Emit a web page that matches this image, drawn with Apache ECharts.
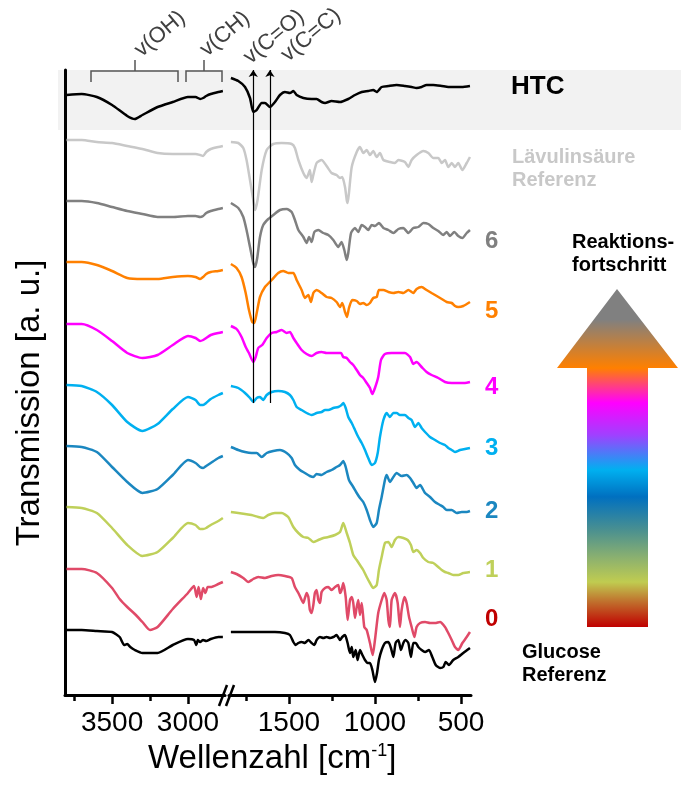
<!DOCTYPE html>
<html>
<head>
<meta charset="utf-8">
<script src="https://cdn.jsdelivr.net/npm/echarts@6/dist/echarts.min.js"></script>
<style>
  html, body { margin: 0; padding: 0; background: #fff; }
  #chart { width: 681px; height: 785px; }
</style>
</head>
<body>
<div id="chart"></div>
<script>
// FTIR spectra, [wavenumber cm-1, transmission a.u. (stacked)]
const htcLeft = [[3800,600],[3700,601],[3600,598],[3500,590],[3400,579],[3350,576],[3300,580],[3200,588],[3100,593],[3000,598],[2950,598],[2920,596],[2900,597],[2880,599],[2850,601],[2800,603],[2770,604]]
const htcRight = [[1837,617],[1794,614],[1755,608],[1726,597],[1707,583],[1687,585],[1658,592],[1639,592],[1610,588],[1581,593],[1552,600],[1523,603],[1494,602],[1474,604],[1455,600],[1416,597],[1368,596],[1339,596],[1310,593],[1290,592],[1252,594],[1203,593],[1155,596],[1116,600],[1077,603],[1039,604],[1010,605],[990,603],[961,608],[922,609],[874,610],[826,609],[787,608],[758,607],[729,608],[700,610],[661,610],[612,609],[574,608],[535,608],[496,608],[448,609]]

const levLeft = [[3800,555],[3700,555],[3600,553],[3500,552],[3400,549],[3300,546],[3200,542],[3100,541],[3000,541],[2950,541],[2920,540],[2900,539],[2880,543],[2850,546],[2800,548],[2770,549]]
const levRight = [[1837,553],[1794,552],[1765,547],[1746,535],[1726,515],[1707,495],[1697,485],[1682,495],[1658,525],[1629,545],[1591,551],[1542,552],[1484,551],[1465,547],[1445,535],[1416,522],[1397,517],[1378,525],[1368,513],[1358,520],[1339,532],[1310,535],[1281,529],[1252,522],[1223,520],[1203,517],[1190,518],[1174,508],[1164,495],[1159,492],[1151,502],[1135,528],[1106,543],[1087,548],[1068,542],[1048,545],[1029,540],[1010,544],[990,538],[971,542],[951,535],[913,533],[884,532],[864,535],[826,533],[806,528],[787,535],[758,540],[719,544],[690,542],[661,537],[632,537],[612,532],[593,535],[574,528],[554,532],[535,528],[516,532],[492,525],[467,532],[448,538]]

const s6Left = [[3800,494],[3700,494],[3600,492],[3500,488],[3400,484],[3300,481],[3200,478],[3100,478],[3000,479],[2950,479],[2920,478],[2900,479],[2880,482],[2850,484],[2800,486],[2770,487]]
const s6Right = [[1837,492],[1794,487],[1765,478],[1746,465],[1726,448],[1707,432],[1697,428],[1684,437],[1668,458],[1649,470],[1620,476],[1591,480],[1552,485],[1513,486],[1484,483],[1465,475],[1445,465],[1416,458],[1397,452],[1383,458],[1368,453],[1352,463],[1329,465],[1300,462],[1271,460],[1242,455],[1213,448],[1194,453],[1178,445],[1164,435],[1155,442],[1139,462],[1116,467],[1097,463],[1077,470],[1058,468],[1039,465],[1019,470],[1000,469],[977,472],[951,467],[922,465],[893,462],[864,466],[835,467],[806,462],[777,467],[748,468],[719,472],[690,471],[661,467],[632,464],[603,460],[583,463],[564,459],[539,463],[516,459],[492,457],[467,462],[448,465]]

const s5Left = [[3800,433],[3700,433],[3600,430],[3500,424],[3400,417],[3300,416],[3200,416],[3100,418],[3000,419],[2950,418],[2920,416],[2900,418],[2880,421],[2850,423],[2800,424],[2770,425]]
const s5Right = [[1837,431],[1804,427],[1775,418],[1751,402],[1732,385],[1713,373],[1701,372],[1687,382],[1668,398],[1639,408],[1600,415],[1562,422],[1533,424],[1504,422],[1474,422],[1455,415],[1426,405],[1407,397],[1387,400],[1372,393],[1358,402],[1339,405],[1310,402],[1281,398],[1252,397],[1223,393],[1203,388],[1190,392],[1174,383],[1163,378],[1151,387],[1132,395],[1106,394],[1087,391],[1068,392],[1048,390],[1029,392],[1010,397],[990,398],[977,405],[951,405],[922,403],[893,402],[864,403],[835,402],[806,405],[777,402],[758,406],[729,408],[700,405],[671,402],[641,399],[612,396],[583,393],[554,392],[535,389],[516,388],[487,389],[448,393]]

const s4Left = [[3800,371],[3700,371],[3600,365],[3500,354],[3400,342],[3300,337],[3200,340],[3100,350],[3000,359],[2950,357],[2920,354],[2900,355],[2880,357],[2850,360],[2800,362],[2770,363]]
const s4Right = [[1837,369],[1804,366],[1775,358],[1751,348],[1732,342],[1707,333],[1693,338],[1678,347],[1655,350],[1629,357],[1600,362],[1571,363],[1542,365],[1513,362],[1494,363],[1474,357],[1455,352],[1426,345],[1397,341],[1368,339],[1339,342],[1310,343],[1281,342],[1252,342],[1223,342],[1197,342],[1184,338],[1164,337],[1145,333],[1126,330],[1106,325],[1087,320],[1068,317],[1048,312],[1029,307],[1015,301],[1000,307],[981,318],[965,335],[942,341],[903,342],[864,342],[826,342],[796,338],[777,331],[758,333],[729,328],[700,323],[671,320],[632,317],[593,313],[554,312],[516,312],[477,312],[448,313]]

const s3Left = [[3800,310],[3700,309],[3600,303],[3500,290],[3400,273],[3300,264],[3200,271],[3100,286],[3000,298],[2950,295],[2920,290],[2900,290],[2880,292],[2850,296],[2800,300],[2770,302]]
const s3Right = [[1837,309],[1794,307],[1755,302],[1726,297],[1707,293],[1687,297],[1668,298],[1649,295],[1629,300],[1600,303],[1562,304],[1523,303],[1494,300],[1474,295],[1455,288],[1426,285],[1397,282],[1368,280],[1339,282],[1310,283],[1290,285],[1271,285],[1242,287],[1213,288],[1194,290],[1184,292],[1170,287],[1155,278],[1135,272],[1116,265],[1097,258],[1077,252],[1058,245],[1039,237],[1019,230],[1000,232],[984,242],[971,258],[951,275],[932,282],[913,278],[893,282],[874,282],[855,280],[826,280],[806,277],[787,275],[767,268],[748,272],[729,267],[709,263],[680,258],[651,255],[622,252],[593,250],[574,247],[554,245],[535,243],[506,245],[477,246],[448,247]]

const s2Left = [[3800,249],[3700,248],[3600,243],[3500,228],[3400,213],[3300,202],[3200,206],[3100,220],[3000,235],[2950,232],[2920,228],[2900,227],[2880,229],[2850,232],[2800,237],[2770,239]]
const s2Right = [[1837,248],[1794,245],[1755,243],[1717,242],[1687,242],[1658,238],[1629,242],[1591,244],[1552,245],[1513,242],[1484,237],[1465,230],[1436,225],[1407,222],[1378,219],[1358,218],[1339,221],[1310,220],[1281,223],[1252,225],[1223,228],[1203,230],[1184,234],[1170,228],[1151,215],[1126,208],[1106,202],[1087,197],[1068,193],[1048,185],[1029,175],[1010,168],[990,172],[977,185],[961,198],[942,215],[932,220],[913,213],[893,218],[874,222],[845,219],[816,220],[796,217],[777,212],[758,207],[738,210],[709,202],[680,198],[651,193],[622,190],[603,188],[583,185],[554,185],[525,182],[496,183],[467,183],[448,184]]

const s1Left = [[3800,188],[3700,187],[3600,182],[3500,167],[3400,150],[3300,139],[3200,143],[3100,157],[3000,172],[2950,170],[2920,166],[2900,166],[2880,167],[2850,170],[2800,174],[2770,177]]
const s1Right = [[1837,183],[1794,182],[1755,181],[1717,180],[1678,178],[1649,177],[1620,180],[1581,182],[1542,182],[1504,178],[1474,168],[1445,162],[1416,158],[1387,157],[1358,153],[1329,155],[1300,157],[1271,158],[1232,160],[1203,163],[1184,172],[1164,162],[1145,152],[1126,140],[1106,135],[1087,130],[1068,125],[1048,118],[1029,112],[1010,107],[990,110],[977,125],[961,138],[942,152],[922,153],[903,148],[884,155],[864,158],[835,157],[810,155],[791,150],[777,143],[758,145],[738,142],[719,137],[690,133],[661,132],[632,128],[612,125],[593,123],[574,122],[545,120],[516,120],[487,122],[448,123]]

const s0Left = [[3800,126],[3700,126],[3600,122],[3500,107],[3450,96],[3400,88],[3350,81],[3300,73],[3250,65],[3200,68],[3100,86],[3000,102],[2960,109],[2943,98],[2930,108],[2915,96],[2900,107],[2885,102],[2870,108],[2850,108],[2800,111],[2770,113]]
const s0Right = [[1837,123],[1804,121],[1765,117],[1736,113],[1707,116],[1678,118],[1639,117],[1600,119],[1562,120],[1523,119],[1484,117],[1465,108],[1445,102],[1426,95],[1416,92],[1407,97],[1397,102],[1387,98],[1378,85],[1368,82],[1358,90],[1349,102],[1339,105],[1329,95],[1319,92],[1310,103],[1290,107],[1271,108],[1252,105],[1232,108],[1213,110],[1203,102],[1194,105],[1184,112],[1170,98],[1159,75],[1145,95],[1135,98],[1126,92],[1116,77],[1106,88],[1097,95],[1087,80],[1077,92],[1062,68],[1048,65],[1029,52],[1013,40],[1000,55],[981,82],[961,95],[946,102],[932,95],[922,75],[913,68],[903,95],[884,102],[868,92],[855,68],[845,85],[829,98],[816,92],[802,78],[787,68],[771,58],[758,68],[738,72],[709,73],[680,72],[651,72],[622,73],[593,68],[574,62],[554,55],[535,48],[516,45],[492,52],[467,58],[448,63]]

const gluLeft = [[3800,65],[3700,65],[3600,64],[3500,63],[3450,58],[3420,50],[3400,51],[3380,48],[3350,45],[3300,42],[3250,42],[3200,42],[3100,50],[3000,56],[2960,55],[2945,50],[2935,55],[2920,53],[2900,55],[2880,54],[2850,56],[2800,58],[2770,58]]
const gluRight = [[1837,63],[1755,63],[1678,63],[1581,63],[1523,62],[1494,60],[1474,53],[1461,50],[1445,52],[1426,53],[1407,52],[1387,55],[1368,52],[1352,50],[1339,55],[1319,58],[1300,57],[1281,58],[1261,57],[1242,58],[1223,60],[1203,55],[1190,58],[1174,60],[1159,52],[1145,42],[1135,48],[1126,38],[1112,45],[1101,35],[1087,45],[1073,40],[1058,35],[1042,32],[1029,32],[1015,25],[1000,13],[988,22],[977,35],[961,45],[942,52],[922,53],[907,47],[893,38],[880,52],[864,55],[849,45],[835,52],[822,55],[806,52],[791,38],[777,52],[763,52],[748,48],[729,45],[709,43],[686,45],[667,38],[647,30],[622,27],[603,28],[589,33],[570,30],[545,35],[516,38],[487,42],[448,47]]

const leftMajor = [3500, 3000]
const leftMinor = [3750, 3250]
const rightMajor = [1500, 1000, 500]
const rightMinor = [1750, 1250, 750]
const bandWn = [1707, 1610] // v(C=O), v(C=C)

const traces = [
  { name: "HTC", color: "#000000", left: htcLeft, right: htcRight },
  { name: "Lävulinsäure Referenz", color: "#c8c8c8", left: levLeft, right: levRight },
  { name: "6", color: "#808080", left: s6Left, right: s6Right },
  { name: "5", color: "#ff8000", left: s5Left, right: s5Right },
  { name: "4", color: "#ff00ff", left: s4Left, right: s4Right },
  { name: "3", color: "#00b0f0", left: s3Left, right: s3Right },
  { name: "2", color: "#1b87c0", left: s2Left, right: s2Right },
  { name: "1", color: "#bfd05a", left: s1Left, right: s1Right },
  { name: "0", color: "#e04a68", left: s0Left, right: s0Right },
  { name: "Glucose Referenz", color: "#000000", left: gluLeft, right: gluRight }
]

const font = "Liberation Sans, Arial, sans-serif"

let series = []
traces.forEach(t => {
  series.push({
    name: t.name, type: "line", xAxisIndex: 0, yAxisIndex: 0,
    data: t.left, showSymbol: false, smooth: 0.2,
    lineStyle: { color: t.color, width: 2.5 }
  })
  series.push({
    name: t.name, type: "line", xAxisIndex: 2, yAxisIndex: 1,
    data: t.right, showSymbol: false, smooth: 0.2,
    lineStyle: { color: t.color, width: 2.5 }
  })
})
// arrows for v(C=O) and v(C=C)
series[1].markLine = {
  silent: true,
  symbol: ["none", "arrow"],
  symbolSize: 7,
  label: { show: false },
  lineStyle: { color: "#000", width: 1.2, type: "solid" },
  data: bandWn.map(w => [{ coord: [w, 292] }, { coord: [w, 625] }])
}

function label(text, x, y, size, color) {
  return {
    type: "text", x: x, y: y,
    style: {
      text: text, fill: color, font: "bold " + size + "px " + font,
      verticalAlign: "middle", lineHeight: 23
    }
  }
}

function rotLabel(text, x, y) {
  return {
    type: "text", x: x, y: y, rotation: 40 * deg,
    style: { text: text, fill: "#404040", font: "22px " + font, align: "center", verticalAlign: "middle" }
  }
}

const deg = Math.PI / 180
const plain = v => String(v)

let option = {
  animation: false,
  backgroundColor: "#fff",
  grid: [
    { left: 65, top: 70, width: 160, height: 625 },
    { left: 229, top: 70, width: 242, height: 625 }
  ],
  xAxis: [
    {
      gridIndex: 0, type: "value", min: 2756, max: 3810, inverse: true,
      axisLine: { lineStyle: { color: "#000", width: 3 } },
      axisTick: { customValues: leftMajor, length: 9, lineStyle: { color: "#000", width: 2.5 } },
      axisLabel: { customValues: leftMajor, formatter: plain, color: "#000", fontSize: 28, fontFamily: font, margin: 14 },
      splitLine: { show: false }
    },
    {
      gridIndex: 0, type: "value", min: 2756, max: 3810, inverse: true, position: "bottom",
      axisLine: { show: false },
      axisTick: { customValues: leftMinor, length: 6, lineStyle: { color: "#000", width: 2.5 } },
      axisLabel: { show: false },
      splitLine: { show: false }
    },
    {
      gridIndex: 1, type: "value", min: 442, max: 1848, inverse: true,
      axisLine: { lineStyle: { color: "#000", width: 3 } },
      axisTick: { customValues: rightMajor, length: 9, lineStyle: { color: "#000", width: 2.5 } },
      axisLabel: { customValues: rightMajor, formatter: plain, color: "#000", fontSize: 28, fontFamily: font, margin: 14 },
      splitLine: { show: false }
    },
    {
      gridIndex: 1, type: "value", min: 442, max: 1848, inverse: true, position: "bottom",
      axisLine: { show: false },
      axisTick: { customValues: rightMinor, length: 6, lineStyle: { color: "#000", width: 2.5 } },
      axisLabel: { show: false },
      splitLine: { show: false }
    }
  ],
  yAxis: [
    {
      gridIndex: 0, type: "value", min: 0, max: 625,
      axisLine: { show: true, lineStyle: { color: "#000", width: 3 } },
      axisTick: { show: false }, axisLabel: { show: false }, splitLine: { show: false }
    },
    {
      gridIndex: 1, type: "value", min: 0, max: 625, show: false
    }
  ],
  graphic: [
    // HTC band
    { type: "rect", z: -1, shape: { x: 58, y: 70, width: 623, height: 60 }, style: { fill: "#f2f2f2" } },
    // axis break
    { type: "line", shape: { x1: 219, y1: 706, x2: 227, y2: 685 }, style: { stroke: "#000", lineWidth: 2.5 } },
    { type: "line", shape: { x1: 226, y1: 706, x2: 234, y2: 685 }, style: { stroke: "#000", lineWidth: 2.5 } },
    // brackets
    { type: "polyline", shape: { points: [[91, 82], [91, 71], [178, 71], [178, 82]] }, style: { stroke: "#555", lineWidth: 1.5, fill: null } },
    { type: "line", shape: { x1: 135, y1: 71, x2: 135, y2: 60 }, style: { stroke: "#555", lineWidth: 1.5 } },
    { type: "polyline", shape: { points: [[186, 82], [186, 71], [222, 71], [222, 82]] }, style: { stroke: "#555", lineWidth: 1.5, fill: null } },
    { type: "line", shape: { x1: 204, y1: 71, x2: 204, y2: 60 }, style: { stroke: "#555", lineWidth: 1.5 } },
    // band labels
    rotLabel("v(OH)", 160, 34),
    rotLabel("v(CH)", 225, 34),
    rotLabel("v(C=O)", 274, 37),
    rotLabel("v(C=C)", 311, 35),
    // trace labels
    label("HTC", 511, 87, 26, "#000"),
    label("Lävulinsäure\nReferenz", 512, 169, 20, "#c8c8c8"),
    label("6", 485, 241, 24, "#808080"),
    label("5", 485, 311, 24, "#ff8000"),
    label("4", 485, 387, 24, "#ff00ff"),
    label("3", 485, 448, 24, "#00b0f0"),
    label("2", 485, 511, 24, "#1b87c0"),
    label("1", 485, 570, 24, "#bfd05a"),
    label("0", 485, 619, 24, "#c00000"),
    label("Glucose\nReferenz", 522, 664, 20, "#000"),
    label("Reaktions-\nfortschritt", 572, 254, 20, "#000"),
    // progress arrow
    {
      type: "polygon",
      shape: { points: [[617, 289], [678, 368], [648, 368], [648, 627], [587, 627], [587, 368], [557, 368]] },
      style: {
        fill: new echarts.graphic.LinearGradient(0, 0, 0, 1, [
          { offset: 0, color: "#808080" },
          { offset: 0.09, color: "#808080" },
          { offset: 0.234, color: "#ff8000" },
          { offset: 0.337, color: "#ff00ff" },
          { offset: 0.432, color: "#a040ff" },
          { offset: 0.535, color: "#00b0f0" },
          { offset: 0.615, color: "#0070c0" },
          { offset: 0.713, color: "#4a9090" },
          { offset: 0.793, color: "#8ab070" },
          { offset: 0.867, color: "#c0cc50" },
          { offset: 0.92, color: "#c07830" },
          { offset: 1, color: "#c00000" }
        ])
      }
    },
    // axis titles
    {
      type: "text", x: 148, y: 759,
      style: {
        text: "Wellenzahl [cm{sup|-1}]", fill: "#000", font: "33px " + font, verticalAlign: "middle",
        rich: { sup: { fontSize: 18, fontFamily: font, verticalAlign: "top", lineHeight: 33 } }
      }
    },
    {
      type: "text", x: 30, y: 403, rotation: 90 * deg,
      style: { text: "Transmission [a. u.]", fill: "#000", font: "33px " + font, align: "center", verticalAlign: "middle" }
    }
  ],
  series: series
}

let chartEl = echarts.init(document.getElementById("chart"))
chartEl.setOption(option)
</script>
</body>
</html>
